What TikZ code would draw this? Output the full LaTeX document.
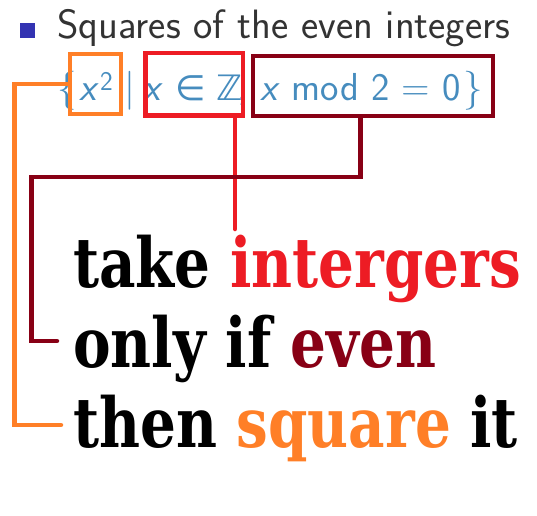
\documentclass[tikz,border=0pt]{standalone}
\usepackage{fontspec}
\newfontfamily\bigserif[FakeStretch=0.817]{DejaVu Serif}
\newfontfamily\symfnt{DejaVu Sans}
\definecolor{cOr}{RGB}{255,127,39}
\definecolor{cRd}{RGB}{237,28,36}
\definecolor{cDr}{RGB}{136,0,21}
\definecolor{cBl}{RGB}{70,140,190}
\definecolor{cBu}{RGB}{51,51,178}
\begin{document}
\begin{tikzpicture}[x=1pt,y=-1pt,
  title/.style={font=\sffamily\fontsize{41}{41}\selectfont, text=black!80, anchor=base west, inner sep=0},
  fml/.style={font=\sffamily\fontsize{39}{39}\selectfont, text=cBl, anchor=base, inner sep=0},
  big/.style={font=\bigserif\bfseries\fontsize{69}{69}\selectfont, anchor=base west, inner sep=0},
  hbox/.style={draw=#1, line width=4.5pt, inner sep=0},
  link/.style={draw=#1, line width=4.5pt, line cap=round, line join=miter}]
\useasboundingbox (0,0) rectangle (537,515);
% title
\node[fill=cBu, minimum size=15pt, inner sep=0] (bul) at (27.5,30) {};
\node[title] (ttl) at (57,38) {Squares of the even integers};
% formula
\node[fml] (lb) at (67,100) {\{};
\node[fml] (t1) at (96,100) {\textit{x}\kern1pt\raisebox{10pt}{\fontsize{27}{27}\selectfont 2}};
\node[fml] (bar) at (130,100) {|};
\node[fml] (t2) at (193,100) {\textit{x} {\symfnt\fontsize{35}{35}\selectfont ∈ ℤ}};
\node[fml] (cm) at (243,100) {,};
\node[fml] (t3) at (360.5,100) {\textit{x} mod 2 = 0};
\node[fml] (rb) at (473.5,100) {\}};
% boxes
\node[hbox=cOr, minimum width=51pt, minimum height=60pt] (bx1) at (95.3,84) {};
\node[hbox=cRd, minimum width=97.5pt, minimum height=62.5pt] (bx2) at (194.3,84) {};
\node[hbox=cDr, minimum width=239.7pt, minimum height=60pt] (bx3) at (372.9,86) {};
% big text
\node[big] (l1) at (73,287) {take \textcolor{cRd}{intergers}};
\node[big] (l2) at (73,367) {only if \textcolor{cDr}{even}};
\node[big] (l3) at (73,447) {then \textcolor{cOr}{square} it};
% connector ends
\coordinate (e1) at (235,229);
\coordinate (e2) at (57,341);
\coordinate (e3) at (61,425);
% connectors
\draw[link=cRd] (bx2.south -| e1) -- (e1);
\draw[link=cDr] (bx3.south -| 360.5,0) |- (31.7,177) -- (31.7,341) -- (e2);
\draw[link=cOr] (bx1.west) -| (14.7,425) -- (e3);
\end{tikzpicture}
\end{document}
